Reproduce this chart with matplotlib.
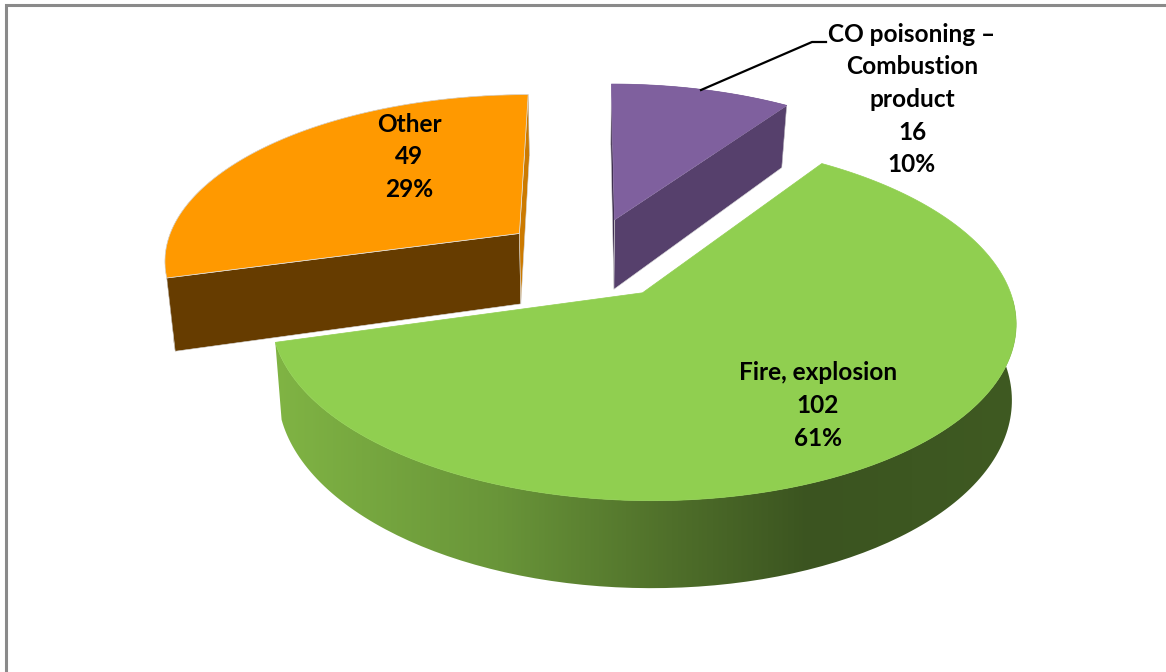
import numpy as np
import matplotlib
matplotlib.use("Agg")
import matplotlib.pyplot as plt
from matplotlib.patches import Polygon, PathPatch
from matplotlib.path import Path
from matplotlib.colors import LinearSegmentedColormap

plt.rcParams["font.family"] = ["Lato", "DejaVu Sans"]

# datos del grafico
categorias = ["CO poisoning –\nCombustion\nproduct", "Fire, explosion", "Other"]
valores = [16, 102, 49]
colores_top = ["#7F609E", "#90CF50", "#FF9900"]
colores_borde = ["#7F609E", "#90CF50", "#e4e4e4"]
colores_lado = ["#56406C", "#3F5A22", "#663C00"]
colores_corte_ini = ["#3F2F50", "#3F5A22", "#663C00"]
colores_corte_fin = ["#56406C", "#3F5A22", "#CC7A00"]
shrink_der = [0.975, 0.99, 0.98]

# geometria del pie en pixeles
CX, CY = 589, 258
A, B = 357, 166
K = 0.147
EXPLODE = 0.25
DEPTH = 72
SHRINK_IZQ = 0.98


def proyectar(u, v, der=1.0, abajo=False):
    """Pasa coordenadas del disco a pixeles, con perspectiva."""
    f = 1 / (1 + K * v)
    x = CX + A * u * f
    y = CY - B * v * f
    if abajo:
        x = CX + (x - CX) * np.where(x < CX, SHRINK_IZQ, der)
        y = y + DEPTH * f
    return x, y


def cara(ax, p1, p2, color, z):
    ax.add_patch(Polygon([p1[0], p1[1], p2[1], p2[0]], closed=True, fc=color,
                         ec="#d8d8d8", lw=0.4, zorder=z))


fig = plt.figure(figsize=(11.66, 6.72), dpi=100)
ax = fig.add_axes([0, 0, 1, 1])
ax.set_xlim(0, 1166)
ax.set_ylim(672, 0)
ax.axis("off")

# marco gris del area del grafico
ax.plot([6, 6, 1166], [672, 5, 5], color="#8a8a8a", lw=2.2, solid_joinstyle="miter", zorder=1)

total = sum(valores)
inicio = 0
orden_z = {0: 3, 1: 5, 2: 4}
for i, valor in enumerate(valores):
    barrido = 360 * valor / total
    angulos = np.radians(np.linspace(inicio, inicio + barrido, 200))
    medio = np.radians(inicio + barrido / 2)
    ou, ov = EXPLODE * np.sin(medio), EXPLODE * np.cos(medio)
    us, vs = ou + np.sin(angulos), ov + np.cos(angulos)

    top_x, top_y = proyectar(us, vs)
    bot_x, bot_y = proyectar(us, vs, shrink_der[i], abajo=True)
    ap_top = proyectar(ou, ov)
    ap_bot = proyectar(ou, ov, shrink_der[i], abajo=True)
    z = orden_z[i]

    # borde exterior
    if i == 1:
        xs = np.r_[top_x, bot_x[::-1]]
        ys = np.r_[top_y, bot_y[::-1]]
        parche = PathPatch(Path(np.c_[xs, ys]), fc="none", ec="none", zorder=z)
        ax.add_patch(parche)
        cmap = LinearSegmentedColormap.from_list(
            "lado", [(0, "#80B444"), (0.30, "#699539"), (0.535, "#4F6F2A"), (0.72, "#3B5420"), (1, "#3F5A22")])
        gradiente = np.linspace(0, 1, 512).reshape(1, -1)
        img = ax.imshow(gradiente, extent=[275, 1017, 640, 300], cmap=cmap, aspect="auto", zorder=z)
        img.set_clip_path(parche)
        ax.set_xlim(0, 1166)
        ax.set_ylim(672, 0)
    else:
        ax.add_patch(Polygon(np.c_[np.r_[top_x, bot_x[::-1]], np.r_[top_y, bot_y[::-1]]],
                             closed=True, fc=colores_lado[i], ec="none", zorder=z))
        # caras de corte
        cara(ax, (ap_top, (top_x[0], top_y[0])), (ap_bot, (bot_x[0], bot_y[0])), colores_corte_ini[i], z)
        cara(ax, (ap_top, (top_x[-1], top_y[-1])), (ap_bot, (bot_x[-1], bot_y[-1])), colores_corte_fin[i], z)

    # cara superior
    ax.add_patch(Polygon(np.c_[np.r_[ap_top[0], top_x], np.r_[ap_top[1], top_y]], closed=True,
                         fc=colores_top[i], ec=colores_borde[i], lw=0.5, zorder=z + 0.5))
    inicio += barrido

# etiquetas
textos = [f"{c}\n{v}\n{round(100 * v / total)}%" for c, v in zip(categorias, valores)]
pos_texto = [(912, 99.5), (818, 405.5), (409, 157)]
for t, (x, y) in zip(textos, pos_texto):
    ax.text(x, y, t, ha="center", va="center", fontsize=17.6, fontweight="bold",
            color="black", linespacing=1.5, zorder=10)

# linea guia de la etiqueta CO
ax.plot([701, 812, 826], [90, 42, 42], color="black", lw=1.6, zorder=9)

fig.savefig("out.png", dpi=100)
